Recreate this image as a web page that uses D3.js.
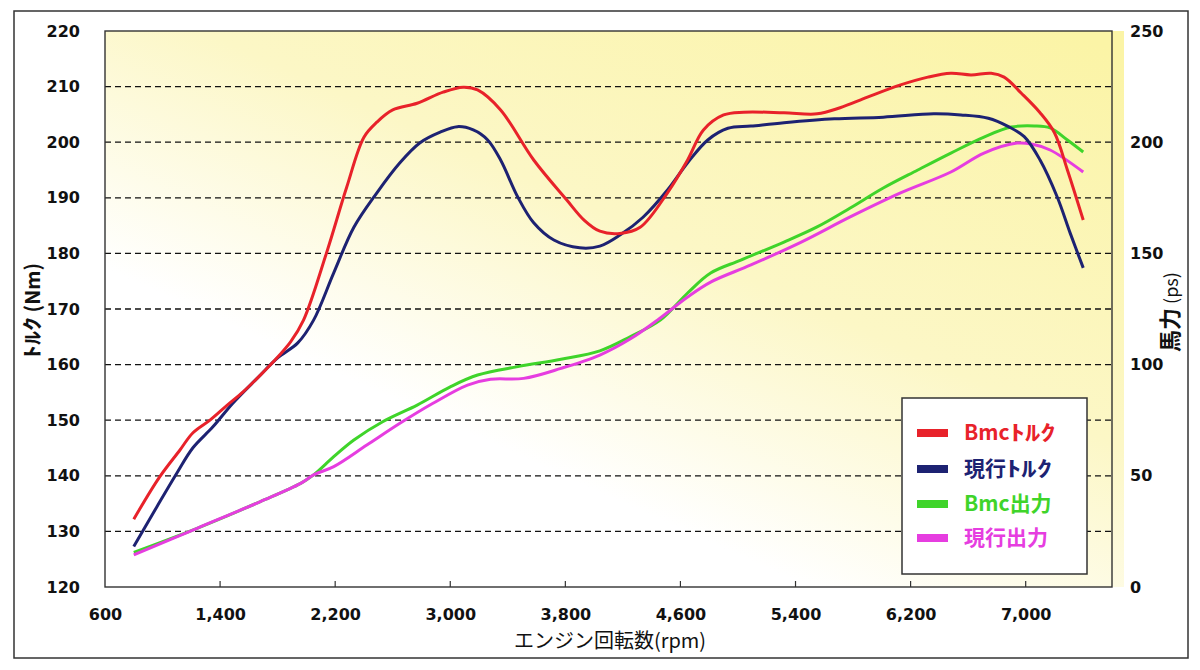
<!DOCTYPE html>
<html><head><meta charset="utf-8">
<script src="https://cdn.jsdelivr.net/npm/d3@7"></script>
<style>body{margin:0;background:#fff}svg{display:block}</style>
</head><body><svg id="c" width="1200" height="670"></svg>
<script>
// ---- data ----
const xTicks = [600,1400,2200,3000,3800,4600,5400,6200,7000];
const torqueTicks = [120,130,140,150,160,170,180,190,200,210,220];
const powerTicks = [0,50,100,150,200,250];

const bmcTorqueRpm = [800,980,1120,1210,1330,1450,1560,1680,1770,1890,1980,2140,2280,2400,2490,2600,2770,2950,3090,3190,3350,3580,3810,3930,4040,4180,4320,4510,4650,4760,4900,5040,5320,5550,5710,5900,6130,6320,6480,6620,6760,6850,6970,7100,7200,7290,7400];
const bmcTorque = [132.2,139.8,144.6,147.7,150,152.7,155.1,158.1,160.5,164.1,168,180.1,191.9,200.9,203.6,205.8,207,209,209.9,209.4,205.8,196.8,189.6,186,184,183.6,184.7,190.9,196.8,202.2,204.9,205.4,205.3,205.1,206.2,208.1,210.3,211.7,212.4,212.1,212.4,211.7,208.8,205.3,201.7,195,186];

const curTorqueRpm = [800,960,1100,1210,1350,1490,1660,1800,1940,2050,2190,2330,2490,2650,2790,2930,3050,3160,3260,3350,3470,3580,3720,3900,4040,4180,4340,4510,4650,4790,4930,5090,5320,5670,6010,6360,6550,6740,6880,6990,7100,7220,7310,7400];
const curTorque = [127.3,134.4,140.5,145,148.8,153.1,157.6,161.2,163.9,168,176.5,184.7,190.9,196.3,199.9,201.8,202.8,202.2,200.4,196.8,190.1,185.5,182.4,181,181.3,183.3,186.5,191.4,196.3,200.4,202.5,202.9,203.5,204.2,204.5,205.1,204.9,204.3,202.8,201,196.8,190.1,183.6,177.4];

const bmcPowerRpm = [800,1240,1680,1960,2050,2190,2330,2530,2770,3000,3190,3470,3770,4040,4250,4460,4650,4810,5020,5320,5550,5780,6010,6250,6480,6710,6900,7060,7170,7290,7400];
const bmcPower = [15.6,26.4,38.4,46.6,50.4,58.6,66.1,74.3,81.8,90,95.3,99.1,102.4,106.2,112.5,120,132.2,141.2,147,155.1,161.9,170.4,179.4,187.5,195.1,202.3,206.8,207.3,206.4,201,195.6];

const curPowerRpm = [800,1240,1680,1960,2050,2190,2420,2650,2880,3120,3280,3510,3770,4040,4250,4440,4650,4810,5090,5440,5780,6130,6480,6710,6940,7040,7170,7400];
const curPower = [14.4,26.4,38.4,46.6,50.4,54.1,63.8,73.6,82.6,90.8,93.4,93.8,98.3,104.3,111.5,120,130.4,137.1,144.8,155.1,166.4,177.2,186.6,195.1,199.6,199.2,196.5,186.6];

const seriesPrefix = ["Bmc","現行","Bmc","現行"];
const seriesSuffix = ["ﾄﾙｸ","ﾄﾙｸ","出力","出力"];
const seriesColors = ["#e8222a","#1d2272","#3fd42a","#e63de0"];

// ---- layout ----
const svg = d3.select("#c");
const P = {l:105, t:31, r:1112, b:587};
const x = d3.scaleLinear().domain([600,7600]).range([P.l,P.r]);
const yT = d3.scaleLinear().domain([120,220]).range([P.b,P.t]);
const yP = d3.scaleLinear().domain([0,250]).range([P.b,P.t]);
const cjk = "'Noto Sans CJK JP', sans-serif";

// outer border
svg.append("rect").attr("x",14).attr("y",11).attr("width",1174).attr("height",647)
  .attr("fill","#fff").attr("stroke","#333").attr("stroke-width",1.5);

// plot background gradient
const defs = svg.append("defs");
const g = defs.append("linearGradient").attr("id","bg")
  .attr("x1","0.95").attr("y1","0").attr("x2","0.12").attr("y2","1");
g.append("stop").attr("offset","0").attr("stop-color","#fbf4a6");
g.append("stop").attr("offset","0.42").attr("stop-color","#fcf7c6");
g.append("stop").attr("offset","0.72").attr("stop-color","#ffffff");
g.append("stop").attr("offset","1").attr("stop-color","#ffffff");
svg.append("rect").attr("x",P.l).attr("y",P.t).attr("width",P.r-P.l+12).attr("height",P.b-P.t)
  .attr("fill","url(#bg)");

// gridlines
svg.append("g").selectAll("line").data(torqueTicks.filter(v=>v>120 && v<220)).join("line")
  .attr("x1",P.l).attr("x2",P.r).attr("y1",d=>yT(d)).attr("y2",d=>yT(d))
  .attr("stroke","#111").attr("stroke-width",1.3).attr("stroke-dasharray","6,4");

// frame
svg.append("rect").attr("x",P.l).attr("y",P.t).attr("width",P.r-P.l).attr("height",P.b-P.t)
  .attr("fill","none").attr("stroke","#333").attr("stroke-width",1.4);

// bottom inner ticks
svg.append("g").selectAll("line").data(xTicks.slice(1)).join("line")
  .attr("x1",d=>x(d)).attr("x2",d=>x(d)).attr("y1",P.b).attr("y2",P.b-6)
  .attr("stroke","#333").attr("stroke-width",1.2);

const tickFont = "'DejaVu Sans', sans-serif";

// axes labels
const axL = svg.append("g").attr("transform",`translate(${P.l},0)`)
  .call(d3.axisLeft(yT).tickValues(torqueTicks).tickSize(0).tickPadding(25));
const axR = svg.append("g").attr("transform",`translate(${P.r},0)`)
  .call(d3.axisRight(yP).tickValues(powerTicks).tickSize(0).tickPadding(18));
const axB = svg.append("g").attr("transform",`translate(0,${P.b})`)
  .call(d3.axisBottom(x).tickValues(xTicks).tickFormat(d3.format(",")).tickSize(0).tickPadding(22));
[axL,axR,axB].forEach(a=>{
  a.select(".domain").remove();
  a.selectAll("text").attr("font-family",tickFont).attr("font-weight","bold")
    .attr("font-size",16).attr("fill","#111");
});

// axis titles
const lt = svg.append("text").attr("transform","translate(40,311) rotate(-90)")
  .attr("text-anchor","middle").attr("font-family",cjk)
  .attr("font-weight","bold").attr("font-size",20).attr("fill","#111");
lt.append("tspan").attr("textLength",42).attr("lengthAdjust","spacingAndGlyphs").text("ﾄﾙｸ");
lt.append("tspan").text(" (Nm)");
const rt = svg.append("text").attr("transform","translate(1178,312) rotate(-90)")
  .attr("text-anchor","middle").attr("font-family",cjk)
  .attr("fill","#111");
rt.append("tspan").attr("font-weight","bold").attr("font-size",22).text("馬力");
rt.append("tspan").attr("font-size",18).attr("dx",4).text("(ps)");
svg.append("text").attr("x",610).attr("y",648).attr("text-anchor","middle")
  .attr("font-family",cjk).attr("font-size",20)
  .attr("fill","#111").text("エンジン回転数(rpm)");

// lines
const lineT = d3.line().x(d=>x(d[0])).y(d=>yT(d[1])).curve(d3.curveCatmullRom.alpha(0.5));
const lineP = d3.line().x(d=>x(d[0])).y(d=>yP(d[1])).curve(d3.curveCatmullRom.alpha(0.5));
const zip = (a,b)=>a.map((v,i)=>[v,b[i]]);
const series = [
  {pts:zip(bmcPowerRpm,bmcPower), line:lineP, c:seriesColors[2]},
  {pts:zip(curPowerRpm,curPower), line:lineP, c:seriesColors[3]},
  {pts:zip(curTorqueRpm,curTorque), line:lineT, c:seriesColors[1]},
  {pts:zip(bmcTorqueRpm,bmcTorque), line:lineT, c:seriesColors[0]}
];
svg.append("g").selectAll("path").data(series).join("path")
  .attr("d",d=>d.line(d.pts)).attr("fill","none").attr("stroke",d=>d.c)
  .attr("stroke-width",3).attr("stroke-linejoin","round");

// legend
const L = svg.append("g");
L.append("rect").attr("x",902).attr("y",398).attr("width",185).attr("height",176)
  .attr("fill","#fff").attr("stroke","#333").attr("stroke-width",1.5);
const rowsY = [433,469,504,538];
seriesPrefix.forEach((p,i)=>{
  L.append("rect").attr("x",917).attr("y",rowsY[i]-4).attr("width",31).attr("height",8)
    .attr("fill",seriesColors[i]);
  const t = L.append("text").attr("x",964).attr("y",rowsY[i]+7).attr("font-family",cjk)
    .attr("font-weight","bold").attr("font-size",21).attr("fill",seriesColors[i]);
  t.append("tspan").text(p);
  const s = t.append("tspan").text(seriesSuffix[i]);
  if (seriesSuffix[i] === "ﾄﾙｸ") s.attr("textLength",46).attr("lengthAdjust","spacingAndGlyphs");
});
</script></body></html>
